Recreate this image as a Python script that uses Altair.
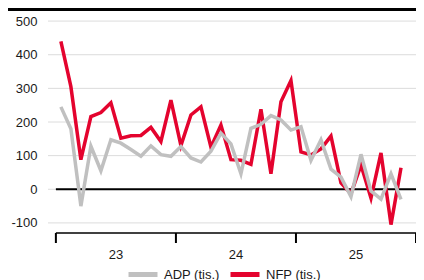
import altair as alt
import pandas as pd

# ---- data (monthly, Jan 2023 - Nov 2025), thousands ----
year_labels = ["23", "24", "25"]
series_names = ["ADP (tis.)", "NFP (tis.)"]
series_colors = ["#C0C0C0", "#E4032E"]
y_ticks = [-100, 0, 100, 200, 300, 400, 500]

nfp = [440, 305, 88, 216, 228, 257, 152, 159, 160, 184, 142, 265,
       130, 221, 245, 125, 191, 88, 86, 74, 238, 46, 260, 323,
       111, 102, 120, 158, 19, -13, 72, -26, 108, -105, 64]
adp = [245, 180, -50, 128, 55, 147, 137, 118, 98, 129, 103, 98,
       127, 93, 81, 113, 167, 135, 46, 181, 193, 219, 206, 176,
       186, 86, 147, 60, 36, -22, 104, -5, -29, 46, -30]

n = len(nfp)
df = pd.DataFrame({
    "m": list(range(n)) * 2,
    "v": adp + nfp,
    "s": [series_names[0]] * n + [series_names[1]] * n,
})

n_years = len(year_labels)
bounds = [12 * k - 0.5 for k in range(n_years + 1)]
centers = [12 * k + 5.5 for k in range(n_years)]

FONT = "Liberation Sans"
W, H = 370, 222
X0 = -1.488
x_scale = alt.Scale(domain=[X0, bounds[-1]], nice=False, zero=False)
y_scale = alt.Scale(domain=[-130, 530], nice=False, zero=False)
color_scale = alt.Scale(domain=series_names, range=series_colors)

legend = alt.Legend(orient="none", legendX=80, legendY=246.5, direction="horizontal",
                    title=None, symbolType="stroke", symbolSize=841, symbolStrokeWidth=5,
                    labelFontSize=13, labelFont=FONT, labelColor="#1a1a1a",
                    labelOffset=4, columnPadding=0)

y_axis = alt.Axis(values=y_ticks, grid=False, domain=False,
                  ticks=False, labelPadding=9, labelFontSize=13,
                  labelFont=FONT, labelColor="#1a1a1a", title=None,
                  labelExpr="replace(datum.label, '\u2212', '-')")

grid = alt.Chart(pd.DataFrame({"y": y_ticks, "x": [X0 + 0.2] * len(y_ticks),
                               "x2": [bounds[-1]] * len(y_ticks)})).mark_rule(
    color="#DCDCDC", strokeWidth=1).encode(
    x=alt.X("x:Q", scale=x_scale, axis=None), x2="x2:Q",
    y=alt.Y("y:Q", scale=y_scale, axis=y_axis))


def line(name):
    return alt.Chart(df).transform_filter(alt.datum.s == name).mark_line(
        strokeWidth=3.5, strokeJoin="miter").encode(
        x=alt.X("m:Q", scale=x_scale, axis=None),
        y=alt.Y("v:Q", scale=y_scale, axis=y_axis),
        color=alt.Color("s:N", scale=color_scale, legend=legend),
    )


zero = alt.Chart(pd.DataFrame({"x": [bounds[0]], "x2": [bounds[-1]], "y": [0]})).mark_rule(
    color="black", strokeWidth=2).encode(
    x=alt.X("x:Q", scale=x_scale, axis=None), x2="x2:Q",
    y=alt.Y("y:Q", scale=y_scale, axis=y_axis))

bottom = alt.Chart(pd.DataFrame({"x": [bounds[0]], "x2": [bounds[-1]], "y": [-130]})).mark_rule(
    color="black", strokeWidth=1.5).encode(
    x=alt.X("x:Q", scale=x_scale, axis=None), x2="x2:Q",
    y=alt.Y("y:Q", scale=y_scale, axis=y_axis))

ticks = alt.Chart(pd.DataFrame({"x": bounds})).mark_rule(
    color="black", strokeWidth=2).encode(
    x=alt.X("x:Q", scale=x_scale, axis=None),
    y=alt.value(222), y2=alt.value(232))

labels = alt.Chart(pd.DataFrame({"x": centers, "t": year_labels})).mark_text(
    fontSize=13, font=FONT, color="#1a1a1a", baseline="middle", align="center").encode(
    x=alt.X("x:Q", scale=x_scale, axis=None),
    y=alt.value(244), text="t:N")

topbar = alt.Chart(pd.DataFrame({"a": [0]})).mark_rule(color="black", strokeWidth=3).encode(
    x=alt.value(-38), x2=alt.value(W), y=alt.value(-1.5))

# white mask over the left edge of the plot frame
mask = alt.Chart(pd.DataFrame({"a": [0]})).mark_rule(color="white", strokeWidth=3).encode(
    x=alt.value(0), y=alt.value(0), y2=alt.value(H))

chart = alt.layer(grid, zero, line(series_names[1]), line(series_names[0]), bottom, ticks,
                  labels, mask, topbar).properties(
    width=W, height=H,
    padding={"left": 38, "top": 3, "right": 0, "bottom": 47},
    autosize=alt.AutoSizeParams(type="none"),
).configure(font=FONT).configure_view(stroke=None).configure_axis(
    domain=False, grid=False, ticks=False)

chart.save("out.html", embed_options={"renderer": "svg", "actions": False})
